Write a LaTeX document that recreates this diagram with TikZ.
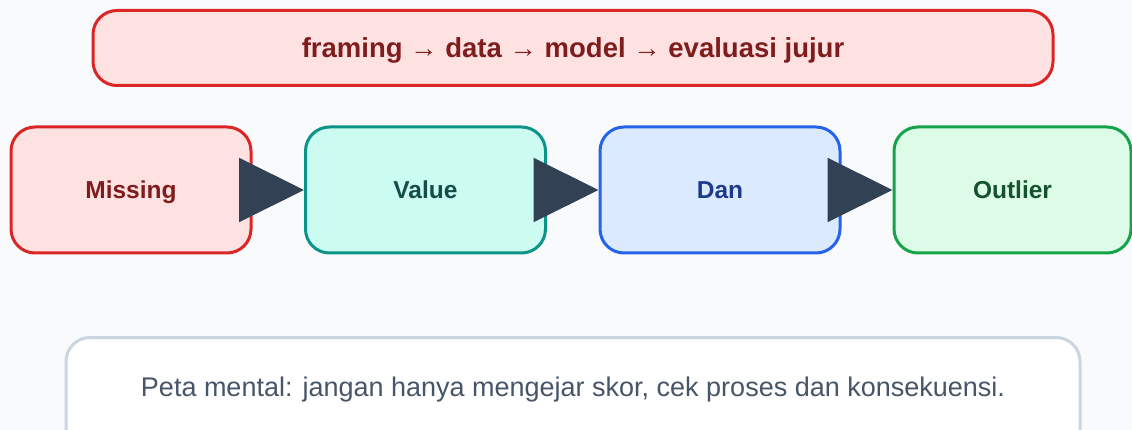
\documentclass[tikz,border=0pt]{standalone}
\usepackage{fontspec}
\setmainfont{Liberation Sans}
\usetikzlibrary{arrows.meta}
\definecolor{bg}{HTML}{F8FAFC}
\definecolor{redS}{HTML}{DC2626}\definecolor{redF}{HTML}{FEE2E2}\definecolor{redT}{HTML}{7F1D1D}
\definecolor{tealS}{HTML}{0D9488}\definecolor{tealF}{HTML}{CCFBF1}\definecolor{tealT}{HTML}{134E4A}
\definecolor{blueS}{HTML}{2563EB}\definecolor{blueF}{HTML}{DBEAFE}\definecolor{blueT}{HTML}{1E3A8A}
\definecolor{greenS}{HTML}{16A34A}\definecolor{greenF}{HTML}{DCFCE7}\definecolor{greenT}{HTML}{14532D}
\definecolor{noteS}{HTML}{CBD5E1}\definecolor{noteT}{HTML}{475569}
\definecolor{arr}{HTML}{334155}
\tikzset{
  box/.style={draw, line width=3pt, rounded corners=24pt, minimum width=240pt, minimum height=126pt, inner sep=0pt, text height=17.5pt, text depth=0pt, font=\fontsize{24.5}{28}\selectfont\bfseries},
  flow/.style={arr, line width=2pt, -{Triangle[length=65pt,width=64pt]}}
}
\begin{document}
\begin{tikzpicture}[x=1pt,y=-1pt]
\clip (0,0) rectangle (1132,430);
\fill[bg] (0,0) rectangle (1132,430);
\node[draw=redS, fill=redF, text=redT, line width=3pt, rounded corners=24pt, minimum width=960pt, minimum height=75pt, inner sep=0pt, text height=19.7pt, text depth=0pt, font=\fontsize{27.5}{31}\selectfont\bfseries] (top) at (573,48) {framing → data → model → evaluasi jujur};
\node[box, draw=redS, fill=redF, text=redT] (m) at (131,190) {Missing};
\node[box, draw=tealS, fill=tealF, text=tealT] (v) at (425.5,190) {Value};
\node[box, draw=blueS, fill=blueF, text=blueT] (d) at (720,190) {Dan};
\node[box, draw=greenS, fill=greenF, text=greenT, minimum width=237pt] (o) at (1012.5,190) {Outlier};
\draw[flow] (m.east) -- (v.west);
\draw[flow] (v.east) -- (d.west);
\draw[flow] (d.east) -- (o.west);
\node[draw=noteS, fill=white, line width=3pt, rounded corners=24pt, minimum width=1014pt, minimum height=120pt, anchor=north] (note) at (573,336) {};
\node[text=noteT, inner sep=0pt, text height=19.3pt, text depth=0pt, font=\fontsize{27}{31}\selectfont] (notetext) at (573,387) {Peta mental: jangan hanya mengejar skor, cek proses dan konsekuensi.};
\end{tikzpicture}
\end{document}
